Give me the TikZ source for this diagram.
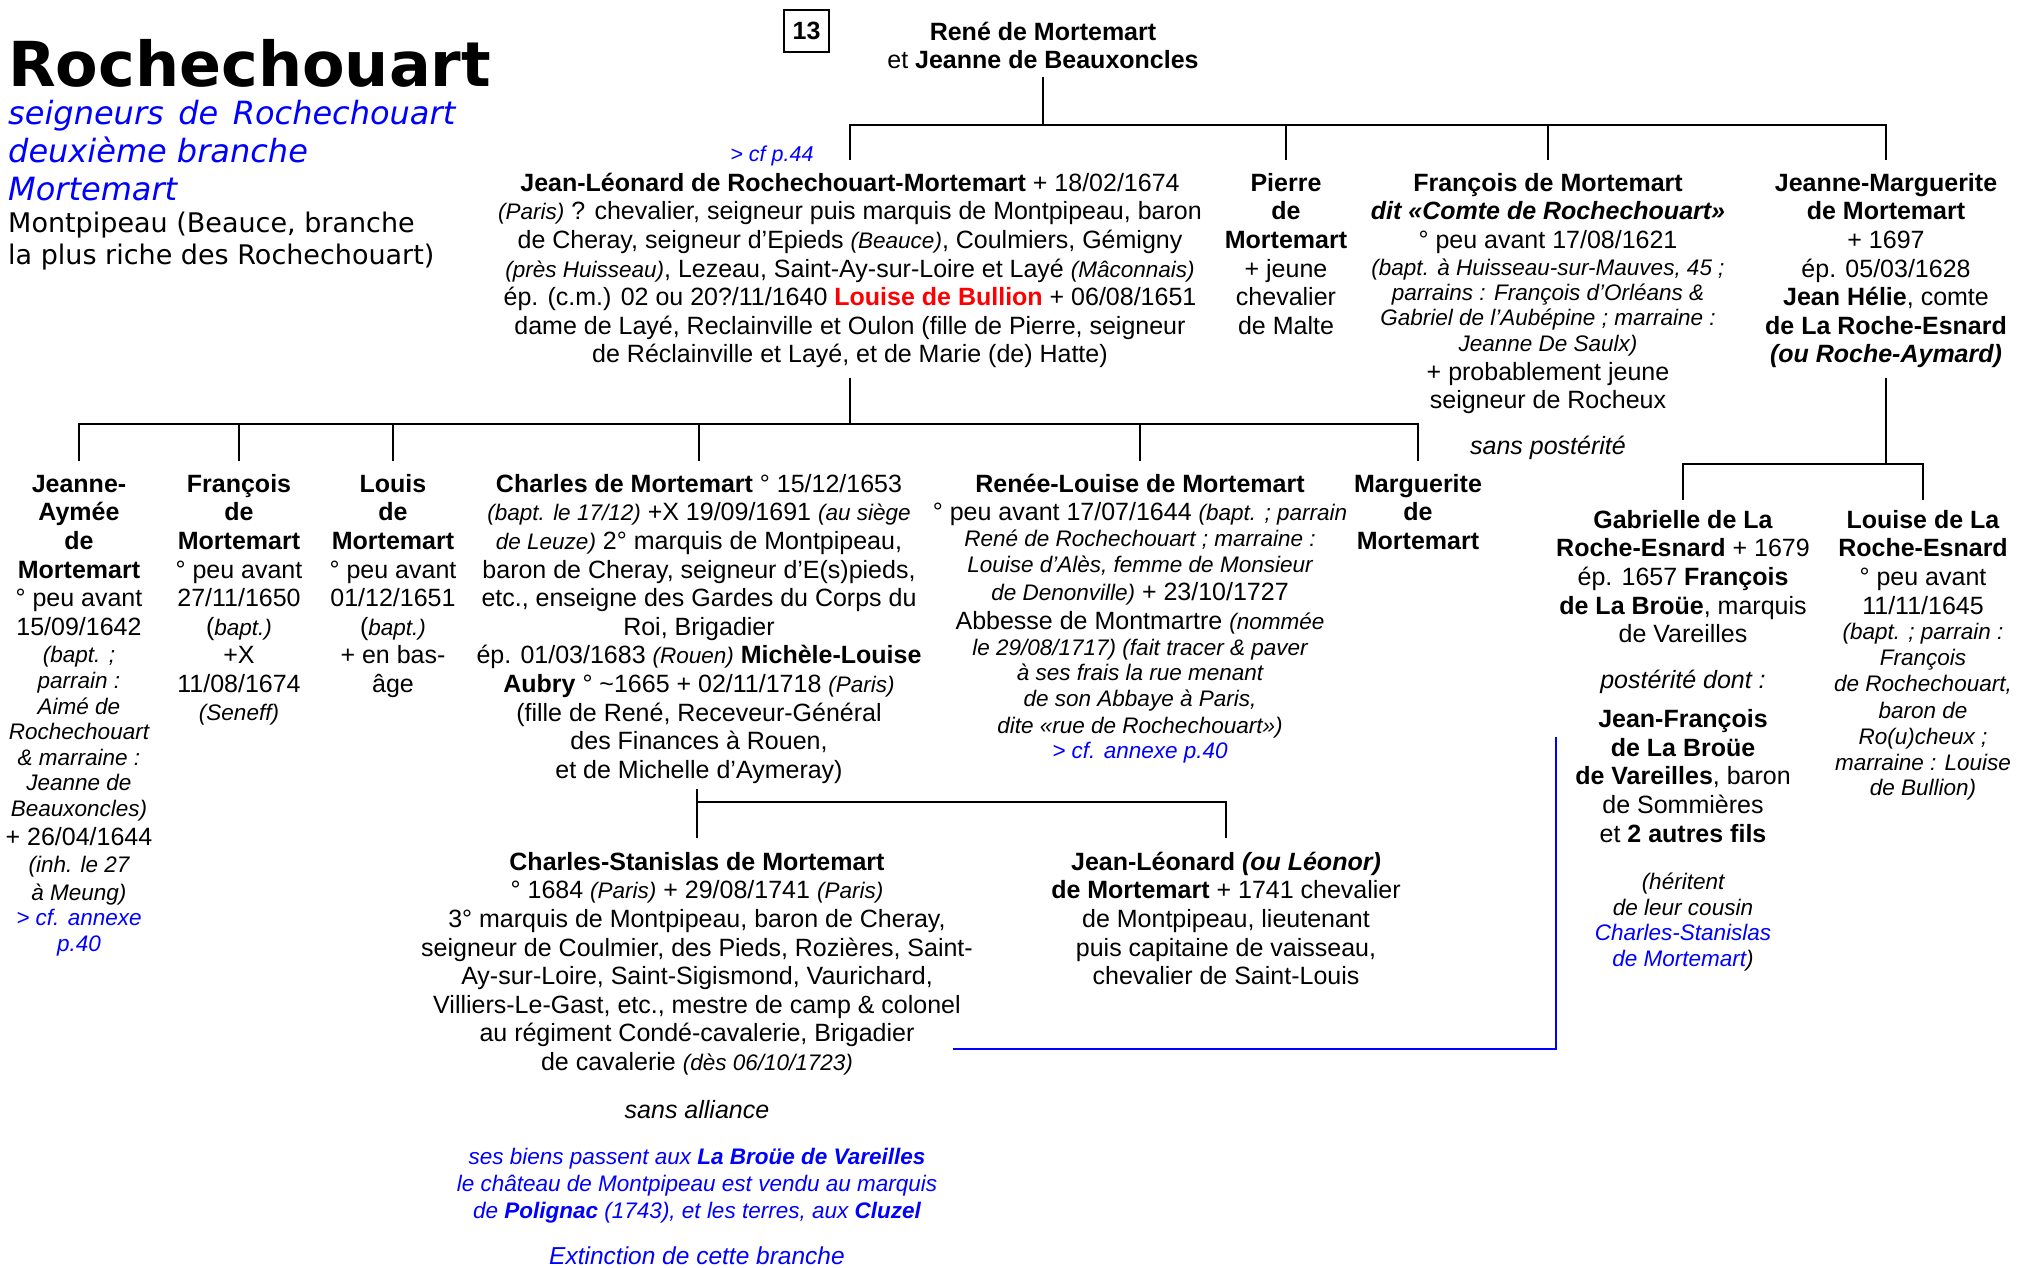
\documentclass[tikz,border=0pt]{standalone}
\usepackage{fontspec}
\setmainfont{Liberation Sans}
\newfontfamily\verdanalike{DejaVu Sans}
\usepackage{xcolor}
\usepackage{tikz}
\usetikzlibrary{positioning}
\definecolor{RocheBlue}{RGB}{0, 0, 255}
\definecolor{RocheRed}{RGB}{255, 0, 0}
\newcommand{\bodyfont}{\fontsize{25}{28.6}\selectfont}
\newcommand{\notefont}{\fontsize{22.5}{25.8}\selectfont\itshape}
\newcommand{\ibr}{\\[-3pt]}

\begin{document}
\begin{tikzpicture}[x=1pt,y=-1pt,
  person/.style={align=center, inner sep=0pt, anchor=north, font=\bodyfont},
  remark/.style={anchor=base, inner sep=0pt, font=\fontsize{25}{28.6}\selectfont\itshape},
  link/.style={line width=2.2pt},
  heir/.style={RocheBlue, line width=2.4pt}]
  \path[use as bounding box] (0,0) rectangle (2021,1268);

  \node[anchor=base west, inner sep=0pt, font=\verdanalike\bfseries\fontsize{62}{70}\selectfont] (title) at (8,87) {Rochechouart};
  \node[anchor=north west, inner sep=0pt, align=left, text=RocheBlue, font=\verdanalike\itshape\fontsize{32}{38}\selectfont] (branch) at (8,97.4) {\strut seigneurs\hspace{14.5pt}de\hspace{14.5pt}Rochechouart\\deuxième branche\\Mortemart};
  \node[anchor=north west, inner sep=0pt, align=left, font=\verdanalike\fontsize{27}{32}\selectfont] (fief) at (8,209.6) {\strut Montpipeau (Beauce, branche\\la plus riche des Rochechouart)};

  \node[draw, line width=2pt, minimum width=45pt, minimum height=42pt, inner sep=0pt, font=\bfseries\fontsize{25}{28}\selectfont] (page) at (806.5,31) {13};

  \node[person] (Rene) at (1043,20) {\strut\textbf{René de Mortemart}\\et \textbf{Jeanne de Beauxoncles}};

  \node[anchor=base, inner sep=0pt, text=RocheBlue, font=\fontsize{21.5}{24}\selectfont\itshape] (cfJL) at (772,162) {> cf p.44};
  \node[person] (JL) at (850,171) {\strut\textbf{Jean-Léonard de Rochechouart-Mortemart} + 18/02/1674\\
    {\notefont (Paris)} ? chevalier, seigneur puis marquis de Montpipeau, baron\\
    de Cheray, seigneur d’Epieds {\notefont (Beauce)}, Coulmiers, Gémigny\\
    {\notefont (près Huisseau)}, Lezeau, Saint-Ay-sur-Loire et Layé {\notefont (Mâconnais)}\\
    ép. (c.m.) 02 ou 20?/11/1640 {\color{RocheRed}\bfseries Louise de Bullion} + 06/08/1651\\
    dame de Layé, Reclainville et Oulon (fille de Pierre, seigneur\\
    de Réclainville et Layé, et de Marie (de) Hatte)};
  \node[person] (Pierre) at (1286,171) {\strut\textbf{Pierre}\\\textbf{de}\\\textbf{Mortemart}\\+ jeune\\chevalier\\de Malte};
  \node[person] (Fr) at (1548,171) {\strut\textbf{François de Mortemart}\\
    \textbf{\itshape dit «Comte de Rochechouart»}\\
    ° peu avant 17/08/1621\\[-1.6pt]
    {\notefont (bapt. à Huisseau-sur-Mauves, 45 ;}\\[-4pt]
    {\notefont parrains : François d'Orléans \&}\\[-2.8pt]
    {\notefont Gabriel de l'Aubépine ; marraine :}\\[-2.8pt]
    {\notefont Jeanne De Saulx)}\\
    + probablement jeune\\
    seigneur de Rocheux};
  \node[remark] (FrNote) at (1548,454) {sans postérité};
  \node[person] (JM) at (1886,171) {\strut\textbf{Jeanne-Marguerite}\\
    \textbf{de Mortemart}\\
    + 1697\\
    ép. 05/03/1628\\
    \textbf{Jean Hélie}, comte\\
    \textbf{de La Roche-Esnard}\\
    \textbf{\itshape (ou Roche-Aymard)}};

  \node[person] (JA) at (79,472) {\strut\textbf{Jeanne-}\\\textbf{Aymée}\\\textbf{de}\\\textbf{Mortemart}\\° peu avant\\15/09/1642\\[-1pt]
    {\notefont (bapt. ;}\ibr
    {\notefont parrain :}\ibr
    {\notefont Aimé de}\ibr
    {\notefont Rochechouart}\ibr
    {\notefont \& marraine :}\ibr
    {\notefont Jeanne de}\ibr
    {\notefont Beauxoncles)}\\
    + 26/04/1644\\[-1.5pt]
    {\notefont (inh. le 27}\\[-0.5pt]
    {\notefont à Meung)}\ibr
    {\notefont\color{RocheBlue} > cf. annexe}\ibr
    {\notefont\color{RocheBlue} p.40}};
  \node[person] (Fr2) at (239,472) {\strut\textbf{François}\\\textbf{de}\\\textbf{Mortemart}\\° peu avant\\27/11/1650\\({\notefont bapt.)}\\+X\\11/08/1674\\[-1pt]{\notefont (Seneff)}};
  \node[person] (Louis) at (393,472) {\strut\textbf{Louis}\\\textbf{de}\\\textbf{Mortemart}\\° peu avant\\01/12/1651\\({\notefont bapt.)}\\+ en bas-\\âge};
  \node[person] (Ch) at (699,472) {\strut\textbf{Charles de Mortemart} ° 15/12/1653\\
    {\notefont (bapt. le 17/12)} +X 19/09/1691 {\notefont (au siège}\\
    {\notefont de Leuze)} 2° marquis de Montpipeau,\\
    baron de Cheray, seigneur d’E(s)pieds,\\
    etc., enseigne des Gardes du Corps du\\
    Roi, Brigadier\\
    ép. 01/03/1683 {\notefont (Rouen)} \textbf{Michèle-Louise}\\
    \textbf{Aubry} ° \textasciitilde1665 + 02/11/1718 {\notefont (Paris)}\\
    (fille de René, Receveur-Général\\
    des Finances à Rouen,\\
    et de Michelle d’Aymeray)};
  \node[person] (RL) at (1140,472) {\strut\textbf{Renée-Louise de Mortemart}\\
    ° peu avant 17/07/1644 {\notefont (bapt. ; parrain}\\[-2.6pt]
    {\notefont René de Rochechouart ; marraine :}\\[-2.9pt]
    {\notefont Louise d'Alès, femme de Monsieur}\\[-0.3pt]
    {\notefont de Denonville)} + 23/10/1727\\[0.4pt]
    Abbesse de Montmartre {\notefont (nommée}\\[-2.6pt]
    {\notefont le 29/08/1717) (fait tracer \& paver}\\[-3.6pt]
    {\notefont à ses frais la rue menant}\\[-2.9pt]
    {\notefont de son Abbaye à Paris,}\\[-1.9pt]
    {\notefont dite «rue de Rochechouart»)}\\[-3.3pt]
    {\notefont\color{RocheBlue} > cf. annexe p.40}};
  \node[person] (Marg) at (1418,472) {\strut\textbf{Marguerite}\\\textbf{de}\\\textbf{Mortemart}};

  \node[person] (Gab) at (1683,508) {\strut\textbf{Gabrielle de La}\\
    \textbf{Roche-Esnard} + 1679\\
    ép. 1657 \textbf{François}\\
    \textbf{de La Broüe}, marquis\\
    de Vareilles\\[17.4pt]
    {\itshape postérité dont :}\\[10.4pt]
    \textbf{Jean-François}\\
    \textbf{de La Broüe}\\
    \textbf{de Vareilles}, baron\\
    de Sommières\\
    et \textbf{2 autres fils}\\[19pt]
    {\notefont (héritent}\ibr
    {\notefont de leur cousin}\ibr
    {\notefont\color{RocheBlue} Charles-Stanislas}\ibr
    {\notefont{\color{RocheBlue} de Mortemart})}};
  \node[person] (Lou) at (1923,508) {\strut\textbf{Louise de La}\\
    \textbf{Roche-Esnard}\\
    ° peu avant\\
    11/11/1645\\[-2.7pt]
    {\notefont (bapt. ; parrain :}\\[-2.7pt]
    {\notefont François}\\[-3pt]
    {\notefont de Rochechouart,}\\[-1.8pt]
    {\notefont baron de}\\[-2.7pt]
    {\notefont Ro(u)cheux ;}\\[-2.7pt]
    {\notefont marraine : Louise}\\[-2.7pt]
    {\notefont de Bullion)}};

  \node[person] (CS) at (697,850) {\strut\textbf{Charles-Stanislas de Mortemart}\\
    ° 1684 {\notefont (Paris)} + 29/08/1741 {\notefont (Paris)}\\
    3° marquis de Montpipeau, baron de Cheray,\\
    seigneur de Coulmier, des Pieds, Rozières, Saint-\\
    Ay-sur-Loire, Saint-Sigismond, Vaurichard,\\
    Villiers-Le-Gast, etc., mestre de camp \& colonel\\
    au régiment Condé-cavalerie, Brigadier\\
    de cavalerie {\notefont (dès 06/10/1723)}};
  \node[person] (JLL) at (1226,850) {\strut\textbf{Jean-Léonard \itshape(ou Léonor)}\\
    \textbf{de Mortemart} + 1741 chevalier\\
    de Montpipeau, lieutenant\\
    puis capitaine de vaisseau,\\
    chevalier de Saint-Louis};
  \node[remark] (CSNote) at (697,1118) {sans alliance};
  \node[person, text=RocheBlue, font=\fontsize{22.5}{27}\selectfont\itshape] (goods) at (697,1145.1) {\strut ses biens passent aux \textbf{La Broüe de Vareilles}\\
    le château de Montpipeau est vendu au marquis\\
    de \textbf{Polignac} (1743), et les terres, aux \textbf{Cluzel}};
  \node[remark, text=RocheBlue, font=\fontsize{24.5}{28}\selectfont\itshape] (ending) at (697,1264) {Extinction de cette branche};

  \draw[link] (Rene |- 0,77) -- (Rene |- 0,125);
  \draw[link] (JL |- 0,160) -- (JL |- 0,125) -- (JM |- 0,125) -- (JM |- 0,160);
  \foreach \kid in {Pierre,Fr}
    \draw[link] (\kid |- 0,125) -- (\kid |- 0,160);

  \draw[link] (JL |- 0,378) -- (JL |- 0,424);
  \draw[link] (JA |- 0,461) -- (JA |- 0,424) -- (Marg |- 0,424) -- (Marg |- 0,461);
  \foreach \kid in {Fr2,Louis,Ch,RL}
    \draw[link] (\kid |- 0,424) -- (\kid |- 0,461);

  \draw[link] (JM |- 0,378) -- (JM |- 0,464);
  \draw[link] (Gab |- 0,500) -- (Gab |- 0,464) -- (Lou |- 0,464) -- (Lou |- 0,500);

  \draw[link] (CS |- 0,789) -- (CS |- 0,838);
  \draw[link] (CS |- 0,802) -| (JLL |- 0,838);

  \coordinate (csEnd) at (953,1049);
  \coordinate (jfEnd) at (1556,737);
  \draw[heir] (csEnd) -| (jfEnd);
\end{tikzpicture}
\end{document}
